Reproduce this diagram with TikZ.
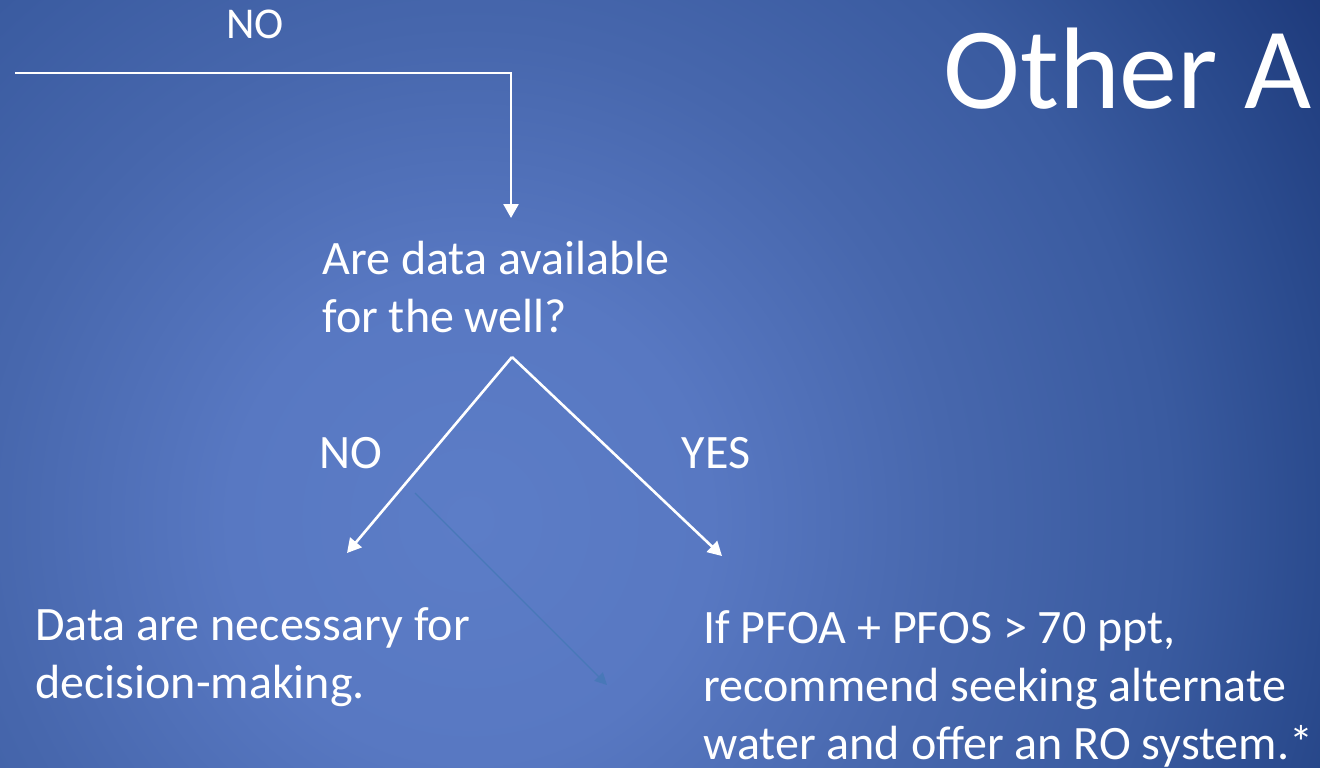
\documentclass[tikz,border=0pt]{standalone}
\usepackage{fontspec}
\setmainfont{Carlito}
\usetikzlibrary{arrows.meta}
\definecolor{SlideCentre}{HTML}{5C7DC7}
\definecolor{SlideInner}{HTML}{5878C2}
\definecolor{SlideMid}{HTML}{4767AD}
\definecolor{SlideOuter}{HTML}{3A5BA0}
\definecolor{SlideEdge}{HTML}{2A4A8D}
\definecolor{SlideCorner}{HTML}{1E3A7B}
\definecolor{GhostArrow}{HTML}{4878B8}
\pgfdeclareradialshading{slidebg}{\pgfpoint{0bp}{0bp}}{%
  color(0bp)=(SlideCentre); color(6bp)=(SlideInner); color(12bp)=(SlideMid);
  color(17.5bp)=(SlideOuter); color(21.5bp)=(SlideEdge); color(25bp)=(SlideCorner);
  color(50bp)=(SlideCorner)}

\begin{document}
\begin{tikzpicture}[x=0.5pt,y=-0.5pt,
    flow/.style={draw=white, line width=1.3pt, -{Triangle[length=7pt,width=7.5pt]}},
    slidetext/.style={text=white, inner sep=0pt, align=left, anchor=base west,
      font=\fontsize{24pt}{29pt}\selectfont},
    answer/.style={text=white, inner sep=0pt, font=\fontsize{24pt}{29pt}\selectfont}]
  \useasboundingbox (0,0) rectangle (1320,767);
  \clip (0,0) rectangle (1320,767);
  % background
  \shade[shading=slidebg] (-530,-480) rectangle (1470,1520);

  % title, cut off at the right edge
  \node[text=white, inner sep=0pt, anchor=base west, font=\fontsize{58pt}{70pt}\selectfont]
    (title) at (943,108) {Other A};

  % incoming branch
  \node[answer, font=\fontsize{22pt}{26pt}\selectfont] (topno) at (255,24) {NO};
  \coordinate (entry) at (15,73);
  \coordinate (qtip) at (511,218);
  \draw[flow] (entry) -| (qtip);

  % base anchor sits on the last line
  \node[slidetext] (question) at (322,332) {Are data available\\for the well?};

  % fork
  \coordinate (fork) at (512,357);
  \coordinate (notip) at (347,553);
  \coordinate (yestip) at (722,556);
  \draw[flow] (fork) -- (notip);
  \draw[flow] (fork) -- (yestip);
  \node[answer] (no) at (351,453) {NO};
  \node[answer] (yes) at (716,453) {YES};

  \coordinate (ghoststart) at (415,493);
  \coordinate (ghostend) at (607,685);
  \draw[GhostArrow, line width=0.7pt, -{Triangle[length=6pt,width=6pt]}] (ghoststart) -- (ghostend);

  % outcomes
  \node[slidetext] (nodata) at (35,698) {Data are necessary for\\decision-making.};
  \node[slidetext] (hasdata) at (703,759) {If PFOA + PFOS > 70 ppt,\\recommend seeking alternate\\water and offer an RO system.*};
\end{tikzpicture}
\end{document}
